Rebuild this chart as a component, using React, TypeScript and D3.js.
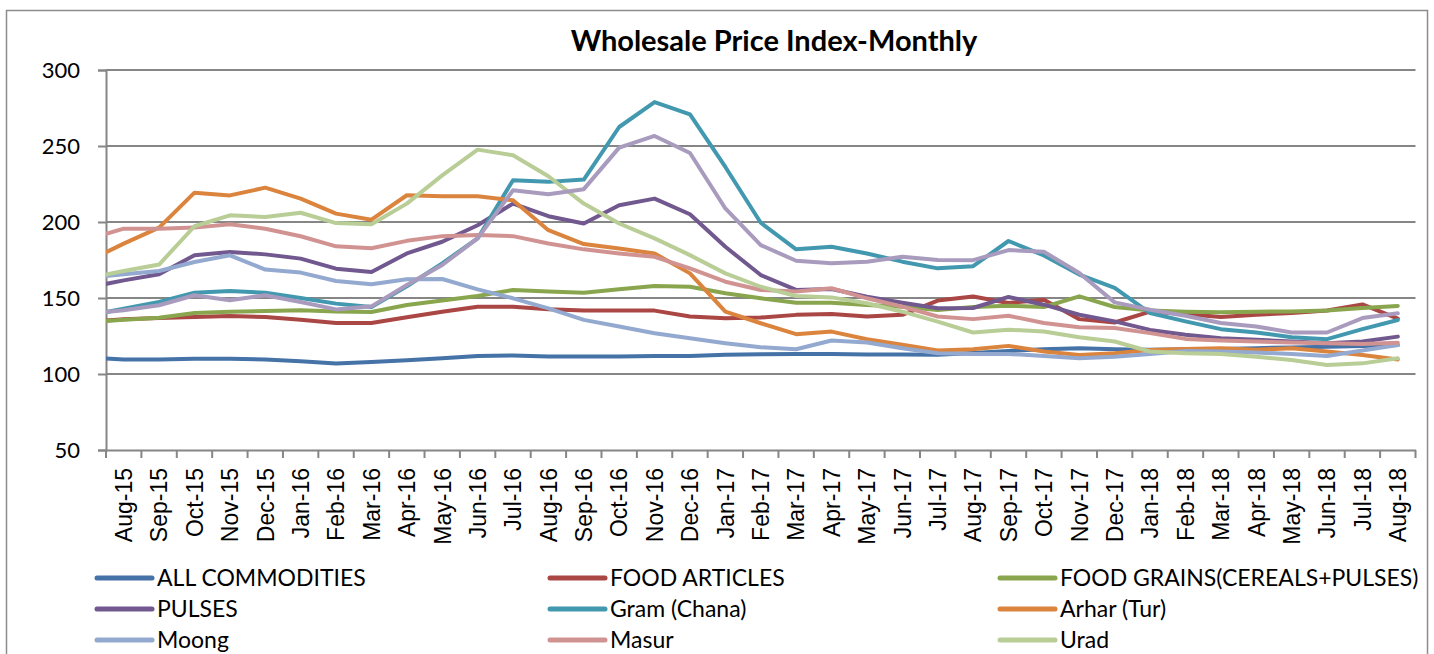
import { useEffect, useRef } from 'react';
import * as d3 from 'd3';

// first entry (Jul-15) sits left of the plot; only its clipped segment shows
const months = [
  'Jul-15', 'Aug-15', 'Sep-15', 'Oct-15', 'Nov-15', 'Dec-15', 'Jan-16', 'Feb-16', 'Mar-16',
  'Apr-16', 'May-16', 'Jun-16', 'Jul-16', 'Aug-16', 'Sep-16', 'Oct-16', 'Nov-16', 'Dec-16',
  'Jan-17', 'Feb-17', 'Mar-17', 'Apr-17', 'May-17', 'Jun-17', 'Jul-17', 'Aug-17', 'Sep-17',
  'Oct-17', 'Nov-17', 'Dec-17', 'Jan-18', 'Feb-18', 'Mar-18', 'Apr-18', 'May-18', 'Jun-18',
  'Jul-18', 'Aug-18',
];
const axisMonths = months.slice(1);
const yTicks = [50, 100, 150, 200, 250, 300];

const allCommodities = [110.9, 109.6, 109.5, 110, 110, 109.5, 108.4, 106.9, 107.9, 109.1, 110.4, 111.9, 112.2, 111.5, 111.5, 111.5, 111.9, 111.9, 112.6, 113, 113.2, 113.2, 112.8, 112.8, 112.6, 113.8, 115.2, 116.3, 117, 116.3, 116, 116.3, 116.5, 117, 117.5, 118, 118.5, 119];
const foodArticles = [134.5, 136, 136.8, 137.5, 138.2, 137.5, 135.7, 133.6, 133.6, 137.3, 141, 144.3, 144.3, 142.6, 141.7, 141.7, 141.7, 137.8, 136.7, 137.1, 138.9, 139.5, 137.8, 138.9, 148.3, 151, 146.7, 148.9, 136.1, 133.9, 141, 139.5, 137.5, 139, 140.1, 141.8, 145.8, 136.5];
const foodGrains = [134, 135.7, 137, 140.1, 141, 141.4, 141.9, 141.2, 140.8, 145.4, 148.3, 151.3, 155.3, 154.2, 153.5, 155.7, 157.9, 157.4, 153.1, 149.8, 146.9, 146.9, 145.4, 144.3, 142.1, 144.1, 144.9, 144.1, 151.1, 144.1, 141.8, 141, 140.7, 141, 141.2, 141.8, 143.4, 144.8];
const pulses = [157, 161.6, 165.6, 178.1, 180.3, 178.7, 175.9, 169.3, 167.1, 179.3, 187, 197.9, 212.1, 203.8, 199, 211, 215.4, 205.1, 183.7, 165.1, 155.3, 155.9, 150.9, 146.9, 143.2, 143.4, 150.7, 145.6, 139, 134.6, 129, 125.8, 123.6, 122.5, 121.4, 120.3, 121.4, 124.6];
const gram = [138.4, 143, 147.4, 153.5, 154.6, 153.5, 150, 146.3, 144.1, 157.7, 172.8, 189.2, 227.5, 226.4, 227.9, 262.5, 278.9, 270.8, 236.2, 199.5, 182, 183.7, 179.3, 173.9, 169.5, 170.9, 187.5, 178, 165.4, 156.6, 140.1, 134.6, 129.5, 127.3, 124.2, 122.9, 129.5, 135.5];
const arhar = [174.4, 185.8, 196.3, 219.3, 217.5, 222.6, 215.4, 205.5, 201.5, 217.6, 217, 217, 214.3, 194.6, 185.5, 182.6, 179.3, 166.2, 141, 133.4, 126.2, 127.9, 122.9, 119.2, 115.4, 116.3, 118.5, 114.8, 112.5, 113.6, 115.8, 116.5, 117, 115.9, 117, 114.8, 112.5, 109.5];
const moong = [163.3, 165.6, 167.8, 173.7, 178.1, 168.7, 166.7, 161.2, 159, 162.3, 162.5, 155.7, 149.8, 143.2, 135.6, 131.2, 126.8, 123.5, 120.3, 117.6, 116.3, 122, 120.7, 117, 113.7, 113.2, 113.2, 111.9, 110.3, 111.4, 113.2, 115.2, 114.8, 114.1, 113.2, 111.9, 115.4, 119.1];
const masur = [188.7, 195.6, 195.6, 196.3, 198.5, 195.6, 190.6, 184, 182.7, 187.6, 190.7, 191.4, 190.7, 185.9, 182, 179.3, 177.1, 169.5, 160.7, 155.3, 154.2, 156.4, 149.8, 144.3, 137.8, 136.1, 138.3, 133.5, 130.8, 130.2, 126.9, 123.1, 122, 121.4, 120.7, 120.3, 119.8, 120.6];
const urad = [163.2, 167.8, 172, 197.2, 204.4, 203.3, 206.1, 199.3, 198.5, 212.1, 230.7, 247.6, 243.9, 230.1, 212.1, 199, 189.2, 178.2, 166.2, 157.4, 151.3, 150.4, 146.5, 141, 134.5, 127.3, 129.1, 128, 124.2, 121.4, 114.8, 113.6, 113.2, 111.4, 109.2, 105.9, 107, 110.3];
const otherPulses = [139.6, 141.9, 145.2, 151.8, 148.5, 151.8, 147.4, 142.5, 144.5, 158.5, 171.7, 189.2, 220.9, 218.3, 221.6, 248.9, 256.6, 245.4, 208.9, 184.8, 174.5, 172.8, 173.9, 177.1, 175, 174.9, 181.5, 180.4, 166.5, 147.1, 142.3, 138.3, 133.5, 131.3, 127.3, 127.3, 136.8, 139.9];

const series = [
  { name: 'ALL COMMODITIES', color: '#4572A7', values: allCommodities },
  { name: 'FOOD ARTICLES', color: '#AA4643', values: foodArticles },
  { name: 'FOOD GRAINS(CEREALS+PULSES)', color: '#89A54E', values: foodGrains },
  { name: 'PULSES', color: '#71588F', values: pulses },
  { name: 'Gram (Chana)', color: '#4198AF', values: gram },
  { name: 'Arhar (Tur)', color: '#DB843D', values: arhar },
  { name: 'Moong', color: '#93A9CF', values: moong },
  { name: 'Masur', color: '#D19392', values: masur },
  { name: 'Urad', color: '#B9CD96', values: urad },
  { name: 'Other Pulses', color: '#A99BBD', values: otherPulses },
];

const W = 1434;
const H = 654;
const plot = { left: 106, right: 1415.5, top: 70, bottom: 450 };
const gridColor = '#868686';
const uiFont = 'Lato, sans-serif';

export default function App() {
  const svgRef = useRef<SVGSVGElement>(null);

  useEffect(() => {
    if (!svgRef.current) return;
    const svg = d3.select(svgRef.current);
    svg.selectAll('*').remove();

    const xBand = d3.scaleBand().domain(axisMonths).range([plot.left, plot.right]);
    const step = xBand.step();
    // index 0 = Jul-15, index 1 = Aug-15 centre
    const xIdx = d3
      .scaleLinear()
      .domain([0.5, months.length - 0.5])
      .range([plot.left, plot.right]);
    const y = d3.scaleLinear().domain([50, 300]).range([plot.bottom, plot.top]);

    // outer chart frame
    svg
      .append('rect')
      .attr('x', 6.5)
      .attr('y', 10.5)
      .attr('width', 1421)
      .attr('height', 720)
      .attr('fill', 'white')
      .attr('stroke', '#8c8c8c')
      .attr('stroke-width', 1.5);

    svg
      .append('text')
      .attr('x', 774)
      .attr('y', 41)
      .attr('text-anchor', 'middle')
      .attr('dy', '0.35em')
      .attr('font-family', uiFont)
      .attr('font-weight', 'bold')
      .attr('font-size', 29)
      .text('Wholesale Price Index-Monthly');

    // horizontal gridlines
    svg
      .append('g')
      .selectAll('line')
      .data(yTicks.slice(1))
      .join('line')
      .attr('x1', plot.left)
      .attr('x2', plot.right)
      .attr('y1', (d) => y(d))
      .attr('y2', (d) => y(d))
      .attr('stroke', gridColor)
      .attr('stroke-width', 2);

    // y axis
    const yAxis = svg
      .append('g')
      .attr('transform', `translate(${plot.left},0)`)
      .call(d3.axisLeft(y).tickValues(yTicks).tickSize(8).tickPadding(18));
    yAxis.select('.domain').attr('stroke', gridColor).attr('stroke-width', 2);
    yAxis.selectAll('.tick line').attr('stroke', gridColor).attr('stroke-width', 2);
    yAxis
      .selectAll('text')
      .attr('font-family', uiFont)
      .attr('font-size', 22)
      .attr('fill', '#000');

    // x axis: ticks between categories, labels rotated
    const xAxis = svg
      .append('g')
      .attr('transform', `translate(0,${plot.bottom})`)
      .call(d3.axisBottom(xBand).tickSize(0));
    xAxis.select('.domain').attr('stroke', gridColor).attr('stroke-width', 2);
    xAxis
      .selectAll('text')
      .attr('transform', 'rotate(-90)')
      .attr('x', -18)
      .attr('y', 0)
      .attr('dy', '0.36em')
      .attr('text-anchor', 'end')
      .attr('font-family', '"Liberation Sans", Arial, sans-serif')
      .attr('font-size', 23)
      .attr('fill', '#000');
    xAxis
      .append('g')
      .selectAll('line')
      .data(d3.range(axisMonths.length + 1))
      .join('line')
      .attr('x1', (i) => plot.left + i * step)
      .attr('x2', (i) => plot.left + i * step)
      .attr('y1', 0)
      .attr('y2', 8)
      .attr('stroke', gridColor)
      .attr('stroke-width', 2);

    svg
      .append('clipPath')
      .attr('id', 'plot-clip')
      .append('rect')
      .attr('x', plot.left)
      .attr('y', plot.top - 10)
      .attr('width', plot.right - plot.left)
      .attr('height', plot.bottom - plot.top + 10);

    const line = d3
      .line<number>()
      .x((_, i) => xIdx(i))
      .y((d) => y(d));

    svg
      .append('g')
      .attr('clip-path', 'url(#plot-clip)')
      .selectAll('path')
      .data(series)
      .join('path')
      .attr('d', (s) => line(s.values))
      .attr('fill', 'none')
      .attr('stroke', (s) => s.color)
      .attr('stroke-width', 4)
      .attr('stroke-linejoin', 'round')
      .attr('stroke-linecap', 'round');

    // legend, three columns, row-major
    const colX = [97, 550, 1000];
    const rowY = [578, 609, 640, 671];
    const legend = svg
      .append('g')
      .selectAll('g')
      .data(series)
      .join('g')
      .attr('transform', (_, i) => `translate(${colX[i % 3]},${rowY[Math.floor(i / 3)]})`);
    legend
      .append('line')
      .attr('x1', 0)
      .attr('x2', 55)
      .attr('stroke', (s) => s.color)
      .attr('stroke-width', 5)
      .attr('stroke-linecap', 'round');
    legend
      .append('text')
      .attr('x', 60)
      .attr('dy', '0.36em')
      .attr('font-family', uiFont)
      .attr('font-size', 23)
      .attr('fill', '#000')
      .text((s) => s.name);
  }, []);

  return (
    <svg
      ref={svgRef}
      width={W}
      height={H}
      viewBox={`0 0 ${W} ${H}`}
      style={{ position: 'absolute', left: 0, top: 0, overflow: 'hidden', background: 'white' }}
    />
  );
}
